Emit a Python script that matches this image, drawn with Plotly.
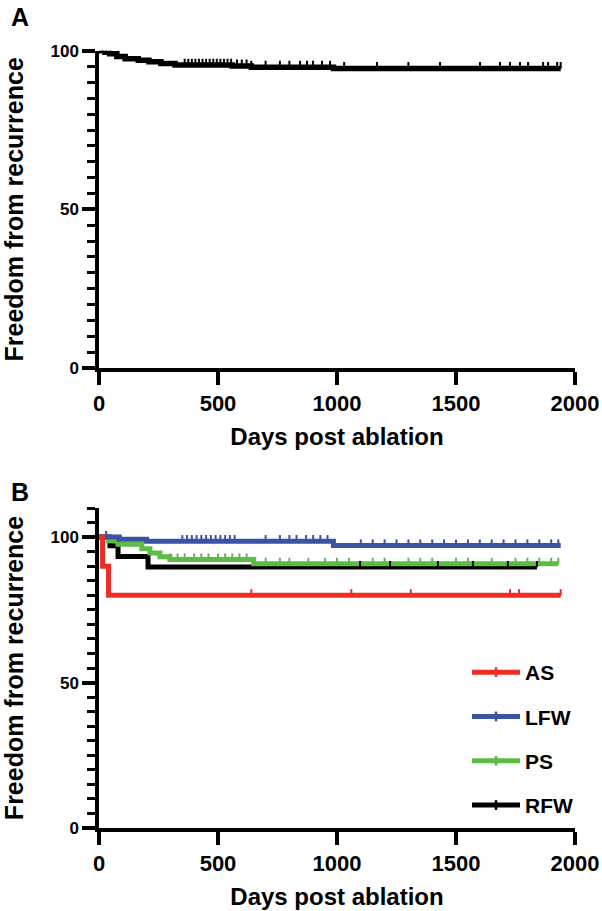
import numpy as np
import plotly.graph_objects as go

# ---------------- data ----------------
# Panel A: all patients
A_time = [0, 25, 45, 75, 110, 165, 210, 260, 320, 560, 640, 985]
A_surv = [100, 99.5, 99.0, 98.2, 97.5, 97.0, 96.5, 96.0, 95.5, 95.2, 94.8, 94.4]
A_end = 1940
A_cens = [15, 30, 360, 375, 390, 405, 420, 435, 450, 465, 480, 495, 510, 525, 540,
          555, 580, 600, 620, 640, 700, 760, 800, 845, 874, 899, 937, 971, 1030,
          1168, 1300, 1433, 1601, 1685, 1727, 1769, 1803, 1866, 1887, 1925, 1940]

# Panel B: by site
groups = ["AS", "LFW", "PS", "RFW"]
B_time = {
    "AS": [0, 15, 40],
    "LFW": [0, 85, 200, 985],
    "PS": [0, 40, 80, 180, 214, 256, 298, 650],
    "RFW": [0, 46, 80, 206],
}
B_surv = {
    "AS": [100, 90, 80],
    "LFW": [100, 99.3, 98.6, 97.1],
    "PS": [100, 98.7, 97.5, 96.0, 94.5, 93.2, 92.3, 90.8],
    "RFW": [100, 97, 93.3, 89.7],
}
B_end = {"AS": 1940, "LFW": 1940, "PS": 1930, "RFW": 1840}
B_cens = {
    "AS": [640, 1060, 1310, 1727, 1765, 1940],
    "LFW": [30, 350, 370, 390, 410, 430, 450, 470, 490, 510, 530, 550, 570, 700,
            760, 800, 830, 870, 900, 930, 960, 1100, 1150, 1200, 1250, 1300,
            1350, 1400, 1450, 1500, 1550, 1600, 1650, 1700, 1750, 1800, 1850,
            1900, 1930],
    "PS": [300, 330, 360, 400, 430, 460, 500, 530, 560, 590, 620, 700, 760,
           800, 880, 950, 1000, 1050, 1150, 1200, 1300, 1350, 1400, 1500, 1550,
           1650, 1750, 1800, 1850, 1900, 1930],
    "RFW": [1097, 1223, 1424, 1571, 1718, 1840],
}
colors = {"AS": "#EB2F26", "LFW": "#3A53A4", "PS": "#5DBB46", "RFW": "#000000"}

x_ticks = [0, 500, 1000, 1500, 2000]
y_ticks = [0, 50, 100]

# ---------------- helpers ----------------
def step_xy(t, s, end):
    return list(t) + [end], list(s) + [s[-1]]

def surv_at(t, s, times):
    idx = np.searchsorted(np.array(t), np.array(times), side="right") - 1
    return [s[i] for i in idx]

W, H = 602, 911
X0, X1 = 99, 575  # plot left/right in px

def fy(py):
    return 1 - py / H

def fx(px):
    return (px - X0) / (X1 - X0)

fig = go.Figure()

# Panel A
xa, ya = step_xy(A_time, A_surv, A_end)
fig.add_trace(go.Scatter(x=xa, y=ya, mode="lines", line=dict(color="black", width=5.5, shape="hv"),
                         showlegend=False, cliponaxis=False, xaxis="x", yaxis="y"))
fig.add_trace(go.Scatter(x=A_cens, y=surv_at(A_time, A_surv, A_cens), mode="markers",
                         marker=dict(size=1, color="black"),
                         error_y=dict(type="constant", value=2.0, valueminus=0, symmetric=False,
                                      width=0, thickness=2, color="black"),
                         showlegend=False, cliponaxis=False, xaxis="x", yaxis="y"))

# Panel B lines (drawn bottom to top)
LW = 5
for g in ["RFW", "PS", "LFW", "AS"]:
    xb, yb = step_xy(B_time[g], B_surv[g], B_end[g])
    fig.add_trace(go.Scatter(x=xb, y=yb, mode="lines",
                             line=dict(color=colors[g], width=LW, shape="hv"),
                             showlegend=False, cliponaxis=False, xaxis="x2", yaxis="y2"))
for g in ["RFW", "PS", "LFW", "AS"]:
    fig.add_trace(go.Scatter(x=B_cens[g], y=surv_at(B_time[g], B_surv[g], B_cens[g]), mode="markers",
                             marker=dict(size=1, color=colors[g]),
                             error_y=dict(type="constant", value=2.1, valueminus=0, symmetric=False,
                                          width=0, thickness=2, color=colors[g]),
                             showlegend=False, cliponaxis=False, xaxis="x2", yaxis="y2"))
# legend entries
for g in groups:
    fig.add_trace(go.Scatter(x=[None], y=[None], mode="lines+markers", name=g,
                             legendgroup=g,
                             line=dict(color=colors[g], width=LW),
                             marker=dict(symbol="line-ns-open", size=7,
                                         line=dict(color=colors[g], width=2.5)),
                             xaxis="x2", yaxis="y2"))

axis_common = dict(showline=True, linewidth=3.5, linecolor="black", ticks="outside",
                   ticklen=13, tickwidth=3.5, tickcolor="black", showgrid=False,
                   zeroline=False, layer="below traces", automargin=False)
yminor = dict(dtick=5, ticks="outside", ticklen=8, tickwidth=3, tickcolor="black", showgrid=False)
xtitle = dict(text="Days post ablation", font=dict(size=24), standoff=14)
ytitle = dict(text="Freedom from recurrence", font=dict(size=25), standoff=24)

fig.update_layout(
    width=W, height=H,
    margin=dict(l=X0, r=W - X1, t=0, b=0, autoexpand=False),
    paper_bgcolor="white", plot_bgcolor="white",
    font=dict(family="Liberation Sans", color="black", weight="bold"),
    xaxis=dict(axis_common, domain=[0, 1], range=[0, 2000], tickvals=x_ticks, anchor="y",
               tickfont=dict(size=22), title=xtitle),
    yaxis=dict(axis_common, domain=[fy(368), fy(50.7)], range=[0, 100], tickvals=y_ticks,
               anchor="x", minor=yminor, tickfont=dict(size=17), title=ytitle),
    xaxis2=dict(axis_common, domain=[0, 1], range=[0, 2000], tickvals=x_ticks, anchor="y2",
                tickfont=dict(size=22), title=xtitle),
    yaxis2=dict(axis_common, domain=[fy(828), fy(508)], range=[0, 110], tickvals=y_ticks,
                anchor="x2", minor=yminor, tickfont=dict(size=17), title=ytitle),
    legend=dict(x=fx(467), y=fy(652), xanchor="left", yanchor="top",
                font=dict(size=21), tracegroupgap=14, itemwidth=48,
                bgcolor="rgba(0,0,0,0)"),
    annotations=[
        dict(text="A", x=fx(9), y=fy(16.5), xref="paper", yref="paper", xanchor="left",
             yanchor="middle", showarrow=False, font=dict(size=25)),
        dict(text="B", x=fx(9), y=fy(491.5), xref="paper", yref="paper", xanchor="left",
             yanchor="middle", showarrow=False, font=dict(size=25)),
    ],
)

fig.write_html("out.html", config={"displayModeBar": False},
               post_script="document.body.style.margin='0';document.body.style.overflow='hidden';")
